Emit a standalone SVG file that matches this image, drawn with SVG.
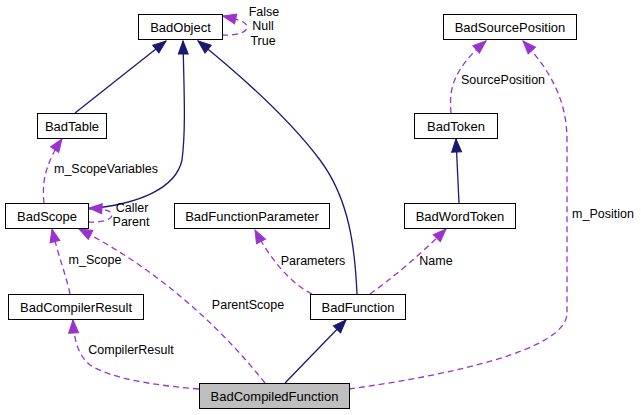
<svg xmlns="http://www.w3.org/2000/svg" width="641" height="415" viewBox="0 0 641 415">
<style>
.box{fill:#fff;stroke:#000;stroke-width:1}
.cur{fill:#bfbfbf}
text{font-family:"Liberation Sans",Arial,sans-serif;font-size:13px;fill:#000;text-anchor:middle}
text.lbl{font-size:12.5px}
.inh{fill:none;stroke:#191970;stroke-width:1.3}
.use{fill:none;stroke:#9a32cd;stroke-width:1.3;stroke-dasharray:6,4}
</style>
<defs>
<marker id="ab" markerUnits="userSpaceOnUse" markerWidth="15" markerHeight="11" refX="13" refY="5" orient="auto" overflow="visible">
<path d="M0,0 L13,5 L0,10 z" fill="#191970" stroke="#191970" stroke-width="1"/>
</marker>
<marker id="ap" markerUnits="userSpaceOnUse" markerWidth="15" markerHeight="11" refX="13" refY="5" orient="auto" overflow="visible">
<path d="M0,0 L13,5 L0,10 z" fill="#9a32cd" stroke="#9a32cd" stroke-width="1"/>
</marker>
</defs>
<g id="connectors">
<path class="inh" marker-end="url(#ab)" d="M75,113 L166,41"/>
<path class="inh" marker-end="url(#ab)" d="M88,209 C140,204 176,188 182,160 C186,130 184,90 183,41"/>
<path class="inh" marker-end="url(#ab)" d="M357,294 C355,250 350,200 320,160 C290,120 240,75 198,41"/>
<path class="inh" marker-end="url(#ab)" d="M459,203 L456,139"/>
<path class="inh" marker-end="url(#ab)" d="M285,383 L346,320"/>
<path class="use" marker-end="url(#ap)" d="M222,35 C235,36 247,33 247,27 C247,22 240,20 223,16"/>
<path class="use" marker-end="url(#ap)" d="M44,203 C42,185 44,165 62,139"/>
<path class="use" marker-end="url(#ap)" d="M70,294 C66,275 58,255 52,229"/>
<path class="use" marker-end="url(#ap)" d="M88,222 C100,223 112,220 112,215 C112,211 106,209 89,208"/>
<path class="use" marker-end="url(#ap)" d="M265,383 C215,320 150,265 79,229"/>
<path class="use" marker-end="url(#ap)" d="M199,389 C150,385 110,378 90,365 C78,355 74,340 73,320"/>
<path class="use" marker-end="url(#ap)" d="M312,294 C288,282 268,255 255,230"/>
<path class="use" marker-end="url(#ap)" d="M370,294 C390,280 420,255 446,229"/>
<path class="use" marker-end="url(#ap)" d="M451,113 C449,90 452,70 486,41"/>
<path class="use" marker-end="url(#ap)" d="M349,389 C450,375 567,350 567,313 L567,140 C567,100 550,70 523,41"/>
<text class="lbl" x="264" y="15.5">False</text>
<text class="lbl" x="263" y="30">Null</text>
<text class="lbl" x="263" y="44.5">True</text>
<text class="lbl" x="106" y="173">m_ScopeVariables</text>
<text class="lbl" x="132" y="211.5">Caller</text>
<text class="lbl" x="131" y="226">Parent</text>
<text class="lbl" x="95" y="264">m_Scope</text>
<text class="lbl" x="248" y="309">ParentScope</text>
<text class="lbl" x="131" y="354">CompilerResult</text>
<text class="lbl" x="313" y="265">Parameters</text>
<text class="lbl" x="436" y="265">Name</text>
<text class="lbl" x="503" y="84">SourcePosition</text>
<text class="lbl" x="603" y="218">m_Position</text>
</g>
<g id="BadObject"><rect class="box" x="138.5" y="14.5" width="84" height="25"/><text x="180.5" y="31.5">BadObject</text></g>
<g id="BadSourcePosition"><rect class="box" x="443.5" y="14.5" width="133" height="25"/><text x="510" y="31.5">BadSourcePosition</text></g>
<g id="BadTable"><rect class="box" x="37.5" y="113.5" width="69" height="25"/><text x="72" y="130.5">BadTable</text></g>
<g id="BadToken"><rect class="box" x="414.5" y="113.5" width="83" height="25"/><text x="456" y="130.5">BadToken</text></g>
<g id="BadScope"><rect class="box" x="5.5" y="203.5" width="83" height="25"/><text x="47" y="220.5">BadScope</text></g>
<g id="BadFunctionParameter"><rect class="box" x="174.5" y="203.5" width="155" height="25"/><text x="252" y="220.5">BadFunctionParameter</text></g>
<g id="BadWordToken"><rect class="box" x="404.5" y="203.5" width="111" height="25"/><text x="460" y="220.5">BadWordToken</text></g>
<g id="BadCompilerResult"><rect class="box" x="8.5" y="294.5" width="135" height="25"/><text x="76" y="311.5">BadCompilerResult</text></g>
<g id="BadFunction"><rect class="box" x="310.5" y="294.5" width="95" height="25"/><text x="358" y="311.5">BadFunction</text></g>
<g id="BadCompiledFunction"><rect class="box cur" x="199.5" y="383.5" width="150" height="25"/><text x="274.5" y="400.5">BadCompiledFunction</text></g>
</svg>
